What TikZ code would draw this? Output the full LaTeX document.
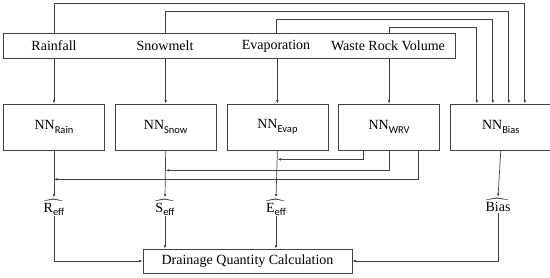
\documentclass[tikz,border=0pt]{standalone}
\usepackage{amsmath}
\usepackage{fontspec}
\usepackage{unicode-math}
\setmainfont{Liberation Serif}
\setmathfont{Latin Modern Math}
\newfontfamily\subfont{Carlito}
\usetikzlibrary{positioning,arrows.meta}

\newcommand{\nnlabel}[1]{NN\raisebox{-3.5pt}{\fontsize{10.5}{12}\subfont #1}}
\newcommand{\hatlabel}[2]{$\widehat{\text{#1\raisebox{-3pt}{\fontsize{10.5}{12}\subfont #2}}}$}

\begin{document}
\begin{tikzpicture}[x=1pt, y=-1pt, node distance=10pt,
    every node/.style={font=\fontsize{14}{16}\selectfont},
    box/.style={rectangle, draw=black!75, line width=0.7pt, minimum width=101pt, minimum height=46pt, inner sep=0pt},
    arr/.style={-{Latex[length=3.5pt,width=2.6pt]}, draw=black!75, line width=0.7pt}]
    \useasboundingbox (0,0) rectangle (550,277);

    % inputs
    \node[box, minimum width=451.5pt, minimum height=25pt] (inputs) at (229.25,46) {};
    \node (rain) at (54,46) {Rainfall};
    \node (snow) at (165,46) {Snowmelt};
    \node (evap) at (276,46) {Evaporation};
    \node (wrv) at (388,46) {Waste Rock Volume};

    % networks
    \node[box] (nnrain) at (54,127) {\nnlabel{Rain}};
    \node[box, right=of nnrain] (nnsnow) {\nnlabel{Snow}};
    \node[box, right=of nnsnow] (nnevap) {\nnlabel{Evap}};
    \node[box, right=of nnevap] (nnwrv) {\nnlabel{WRV}};
    \node[box, right=of nnwrv] (nnbias) {\nnlabel{Bias}};

    % estimates
    \node[inner sep=1pt] (reff) at (54,207) {\hatlabel{R}{eff}};
    \node[inner sep=1pt] (seff) at (165,207) {\hatlabel{S}{eff}};
    \node[inner sep=1pt] (eeff) at (276,207) {\hatlabel{E}{eff}};
    \node[inner sep=1pt] (bias) at (498,205) {$\widehat{\text{Bias}}$};

    \node[box, minimum width=209pt, minimum height=24pt] (calc) at (247.5,261) {Drainage Quantity Calculation};

    % inputs to bias network
    \draw[arr] (inputs.north -| rain) -- ++(0,-30) -| ([xshift=24pt]nnbias.north);
    \draw[arr] (inputs.north -| snow) -- ++(0,-22) -| ([xshift=8pt]nnbias.north);
    \draw[arr] (inputs.north -| evap) -- ++(0,-14) -| ([xshift=-8pt]nnbias.north);
    \draw[arr] (inputs.north -| nnwrv) -- ++(0,-6) -| ([xshift=-24pt]nnbias.north);

    % inputs to networks
    \foreach \dst in {nnrain, nnsnow, nnevap, nnwrv}
        \draw[arr] (inputs.south -| \dst) -- (\dst.north);

    % network outputs
    \draw[arr] (nnrain.south) -- (reff.north);
    \draw[arr] (nnsnow.south) -- (seff.north);
    \draw[arr] (nnevap.south) -- (eeff.north);
    \draw[arr] (nnbias.south) -- (bias.north);
    \draw[arr] ([xshift=-26pt]nnwrv.south) |- ([yshift=-9pt]nnevap.south);
    \draw[arr] (nnwrv.south) |- ([yshift=-20pt]nnsnow.south);
    \draw[arr] ([xshift=29pt]nnwrv.south) |- ([yshift=-29pt]nnrain.south);

    % to calculation
    \draw[arr] (reff.south) |- (calc.west);
    \draw[arr] (seff.south) -- (seff.south |- calc.north);
    \draw[arr] (eeff.south) -- (eeff.south |- calc.north);
    \draw[arr] (bias.south) |- (calc.east);
\end{tikzpicture}
\end{document}
